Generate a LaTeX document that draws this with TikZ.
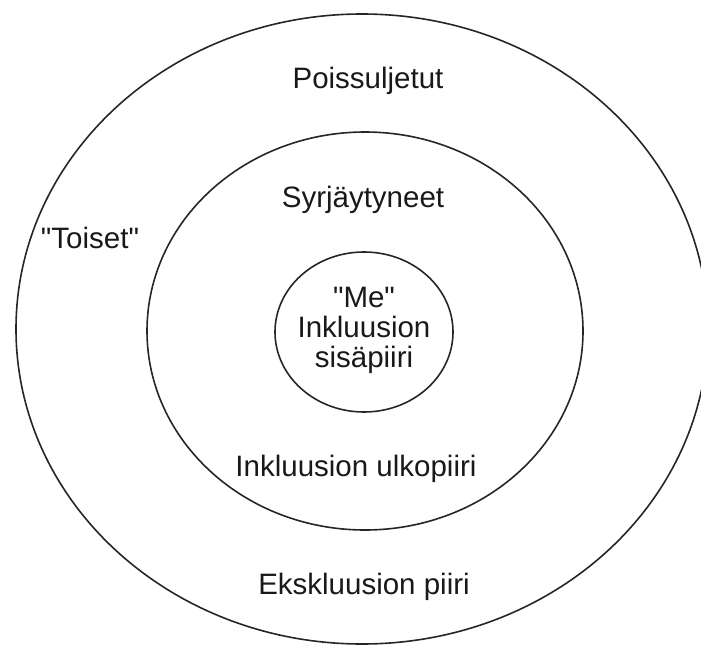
\documentclass[tikz,border=0pt]{standalone}
\usepackage{fontspec}
\setmainfont{Liberation Sans}
\usetikzlibrary{shapes.geometric}
\begin{document}
\begin{tikzpicture}[x=1pt,y=-1pt,
  ring/.style={draw=black!85, line width=1.6pt, ellipse, inner sep=0pt},
  lbl/.style={font=\fontsize{29.5}{30}\selectfont, text=black!90, anchor=base, inner sep=0pt}]
\useasboundingbox (0,0) rectangle (701,645);
\node[ring, minimum width=692pt, minimum height=630pt] (outer) at (362,329) {};
\node[ring, minimum width=436pt, minimum height=398pt] (middle) at (365,331) {};
\node[ring, minimum width=178pt, minimum height=160pt] (inner) at (364,332) {};
\node[lbl] (poiss) at (368,88) {Poissuljetut};
\node[lbl] (syrj) at (363,207) {Syrjäytyneet};
\node[lbl] (toiset) at (90,248) {\textquotedbl Toiset\textquotedbl};
\node[lbl] (me) at (364,307) {\textquotedbl Me\textquotedbl};
\node[lbl] (inkl) at (364,337) {Inkluusion};
\node[lbl] (sisa) at (364,367) {sisäpiiri};
\node[lbl] (ulko) at (356,476) {Inkluusion ulkopiiri};
\node[lbl] (ekskl) at (364,594) {Ekskluusion piiri};
\end{tikzpicture}
\end{document}
